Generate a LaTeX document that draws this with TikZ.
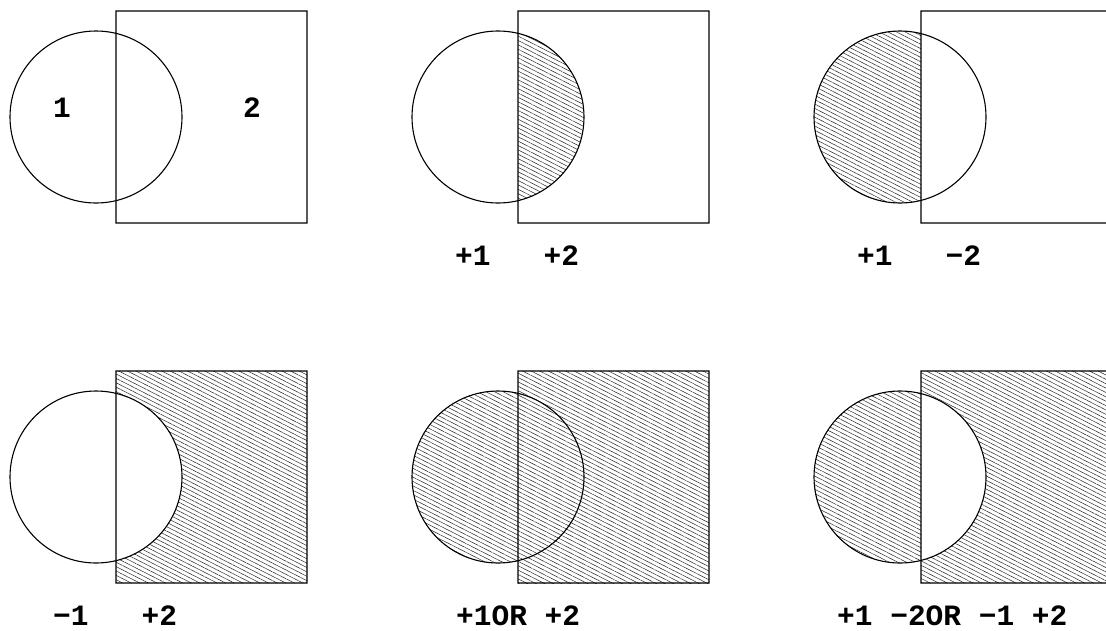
\documentclass[tikz,border=0pt]{standalone}
\usepackage{fontspec}
\usetikzlibrary{patterns.meta}
\newfontfamily\setlblfont{Liberation Mono}

\begin{document}
\begin{tikzpicture}[x=1pt, y=-1pt,
    outline/.style={line width=1.1pt},
    hatch/.style={pattern={Lines[angle=-27, distance=3.9pt, line width=0.5pt]}, pattern color=black!85},
    lbl/.style={font=\setlblfont\bfseries\fontsize{29.5}{29.5}\selectfont, inner sep=0pt, anchor=base west}]
  \useasboundingbox (0,0) rectangle (1106,630);

  % panel origins: circle centres and square corners
  \coordinate (C1) at (96,117);   \coordinate (SA1) at (116,11);  \coordinate (SB1) at (307,223);
  \coordinate (C2) at (498,117);  \coordinate (SA2) at (518,11);  \coordinate (SB2) at (709,223);
  \coordinate (C3) at (900,117);  \coordinate (SA3) at (921,11);  \coordinate (SB3) at (1112,223);
  \coordinate (C4) at (96,477);   \coordinate (SA4) at (116,371); \coordinate (SB4) at (307,583);
  \coordinate (C5) at (498,477);  \coordinate (SA5) at (518,371); \coordinate (SB5) at (709,583);
  \coordinate (C6) at (900,477);  \coordinate (SA6) at (921,371); \coordinate (SB6) at (1112,583);

  % +1 +2 : intersection
  \begin{scope}
    \clip (SA2) rectangle (SB2);
    \fill[hatch] (C2) circle (86);
  \end{scope}

  % +1 -2 : circle outside square
  \begin{scope}
    \clip (0,0) rectangle (SA3 |- SB3);
    \fill[hatch] (C3) circle (86);
  \end{scope}

  % -1 +2 : square outside circle
  \begin{scope}
    \clip (SA4) rectangle (SB4);
    \fill[hatch, even odd rule] (SA4) rectangle (SB4) (C4) circle (86);
  \end{scope}

  % +1 OR +2 : union
  \fill[hatch] (SA5) rectangle (SB5);
  \begin{scope}
    \clip (402,360) rectangle (SA5 |- SB5);
    \fill[hatch] (C5) circle (86);
  \end{scope}

  % symmetric difference
  \fill[hatch, even odd rule] (SA6) rectangle (SB6) (C6) circle (86);

  % outlines
  \draw[outline] (C1) circle (86) (SA1) rectangle (SB1);
  \draw[outline] (C2) circle (86) (SA2) rectangle (SB2);
  \draw[outline] (C3) circle (86) (SA3) rectangle (SB3);
  \draw[outline] (C4) circle (86) (SA4) rectangle (SB4);
  \draw[outline] (C5) circle (86) (SA5) rectangle (SB5);
  \draw[outline] (C6) circle (86) (SA6) rectangle (SB6);

  % labels
  \node[lbl, anchor=center] (one) at (62,108) {1};
  \node[lbl, anchor=center] (two) at (252,108) {2};
  \node[lbl] (lab2) at (455,265) {+1\ \ \ +2};
  \node[lbl] (lab3) at (857,265) {+1\ \ \ −2};
  \node[lbl] (lab4) at (53,625) {−1\ \ \ +2};
  \node[lbl] (lab5) at (456,625) {+1OR\ +2};
  \node[lbl] (lab6) at (837,625) {+1\ −2OR\ −1\ +2};
\end{tikzpicture}
\end{document}
